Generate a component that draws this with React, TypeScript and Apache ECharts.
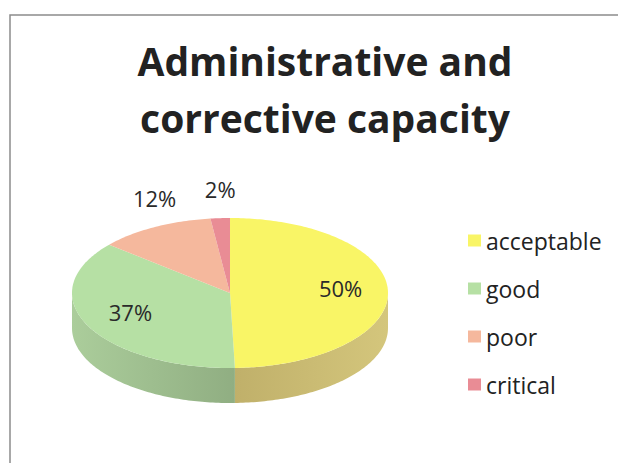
import React, { useEffect, useRef } from "react";
import * as echarts from "echarts";

const titleLines = ["Administrative and", "corrective capacity"];
const categories = ["acceptable", "good", "poor", "critical"];
const percentValues = [50, 37, 12, 2];

const topColors = ["#f9f566", "#b6e0a4", "#f5b89d", "#e98c95"];
const sideColorsA = ["#c0b06a", "#abcd9b", "#d9a088", "#c9767e"];
const sideColorsB = ["#d4c67c", "#90ae82", "#c98e78", "#b86a72"];

const CX = 230;
const CY = 293;
const RX = 158;
const RY = 75;
const DEPTH = 35;
const FONT = "'Open Sans', Lato, sans-serif";

function pt(theta: number, dy = 0): number[] {
  return [CX + RX * Math.sin(theta), CY - RY * Math.cos(theta) + dy];
}

function arc(a: number, b: number, dy = 0): number[][] {
  const pts: number[][] = [];
  const n = Math.max(2, Math.ceil(((b - a) * 180) / Math.PI));
  for (let i = 0; i <= n; i++) pts.push(pt(a + ((b - a) * i) / n, dy));
  return pts;
}

export default function App() {
  const ref = useRef<HTMLDivElement>(null);
  useEffect(() => {
    if (!ref.current) return;
    const chart = echarts.init(ref.current, undefined, { renderer: "svg" });
    const total = percentValues.reduce((s, v) => s + v, 0);

    const series = categories.map((name, si) => ({
      type: "custom",
      name,
      coordinateSystem: "none",
      itemStyle: { color: topColors[si] },
      data: [percentValues[si]],
      renderItem: (params: any, api: any) => {
        const v = api.value(0);
        let before = 0;
        for (let k = 0; k < si; k++) before += percentValues[k];
        const start = (before / total) * Math.PI * 2;
        const end = start + (v / total) * Math.PI * 2;
        const children: any[] = [];
        const a = Math.max(start, Math.PI / 2);
        const b = Math.min(end, (Math.PI * 3) / 2);
        if (a < b) {
          const upper = arc(a, b, 0);
          const lower = arc(a, b, DEPTH).reverse();
          const x0 = pt(a)[0];
          const x1 = pt(b)[0];
          children.push({
            type: "polygon",
            shape: { points: upper.concat(lower) },
            style: {
              fill: new echarts.graphic.LinearGradient(
                Math.min(x0, x1), 0, Math.max(x0, x1), 0,
                [
                  { offset: 0, color: sideColorsA[si] },
                  { offset: 1, color: sideColorsB[si] },
                ],
                true
              ),
            },
          });
        }
        children.push({
          type: "polygon",
          shape: { points: [[CX, CY]].concat(arc(start, end, 0)) },
          style: { fill: topColors[si] },
        });
        const mid = (start + end) / 2;
        let lx: number, ly: number;
        if (v >= 20) {
          lx = CX + RX * 0.7 * Math.sin(mid);
          ly = CY - RY * 0.7 * Math.cos(mid) - 4;
        } else {
          const p = pt(mid);
          lx = p[0];
          ly = p[1] - 29;
        }
        children.push({
          type: "text",
          x: lx,
          y: ly,
          style: {
            text: v + "%",
            fill: "#2a2a2a",
            font: `22px ${FONT}`,
            align: "center",
            verticalAlign: "middle",
          },
        });
        return { type: "group", children };
      },
    }));

    chart.setOption({
      animation: false,
      backgroundColor: "#ffffff",
      title: {
        text: titleLines.join("\n"),
        left: 320,
        textAlign: "center",
        top: 27,
        textStyle: {
          fontFamily: FONT,
          fontWeight: "bold",
          fontSize: 39,
          lineHeight: 57,
          color: "#222222",
        },
      },
      legend: {
        orient: "vertical",
        left: 463,
        top: 224,
        itemWidth: 13,
        itemHeight: 12,
        itemGap: 25,
        icon: "rect",
        data: categories,
        textStyle: {
          fontFamily: FONT,
          fontSize: 23,
          lineHeight: 23,
          color: "#222222",
          padding: [0, 0, 0, 0],
        },
      },
      graphic: [
        {
          type: "rect",
          shape: { x: 10, y: 15, width: 800, height: 600 },
          style: { fill: "none", stroke: "#8c8c8c", lineWidth: 1.5 },
          silent: true,
        },
      ],
      series,
    });
    return () => chart.dispose();
  }, []);
  return (
    <div
      ref={ref}
      style={{
        position: "fixed",
        left: 0,
        top: 0,
        width: 618,
        height: 463,
        fontVariantLigatures: "none",
      }}
    />
  );
}
